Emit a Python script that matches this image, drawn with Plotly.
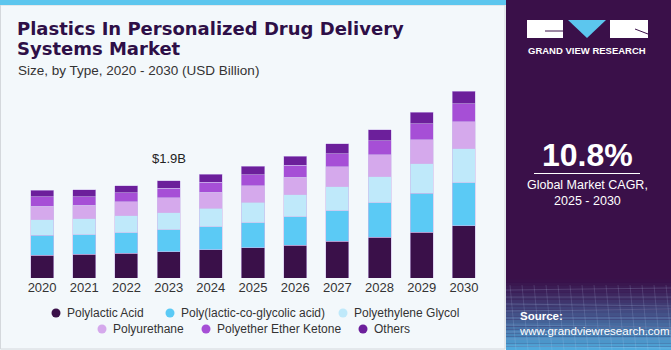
import plotly.graph_objects as go

years = ["2020", "2021", "2022", "2023", "2024", "2025", "2026", "2027", "2028", "2029", "2030"]
series_names = ["Polylactic Acid", "Poly(lactic-co-glycolic acid)", "Polyethylene Glycol",
                "Polyurethane", "Polyether Ether Ketone", "Others"]
polylactic_acid = [0.449, 0.463, 0.482, 0.508, 0.547, 0.592, 0.644, 0.717, 0.795, 0.898, 1.021]
plga = [0.383, 0.385, 0.404, 0.435, 0.455, 0.488, 0.553, 0.599, 0.678, 0.756, 0.840]
peg = [0.307, 0.312, 0.332, 0.332, 0.365, 0.396, 0.424, 0.469, 0.508, 0.580, 0.664]
polyurethane = [0.260, 0.260, 0.268, 0.293, 0.307, 0.326, 0.351, 0.391, 0.430, 0.469, 0.527]
peek = [0.184, 0.170, 0.182, 0.189, 0.195, 0.215, 0.228, 0.254, 0.273, 0.312, 0.346]
others = [0.129, 0.137, 0.131, 0.143, 0.156, 0.170, 0.176, 0.189, 0.209, 0.221, 0.248]
series_values = [polylactic_acid, plga, peg, polyurethane, peek, others]
colors = ["#3a1049", "#5bcaf5", "#bfe9fa", "#d5a9ec", "#a64fd6", "#6c1f9b"]
callout_year = "2023"
callout_text = "$1.9B"
cagr_text = "10.8%"
title_lines = ["Plastics In Personalized Drug Delivery", "Systems Market"]
subtitle = "Size, by Type, 2020 - 2030 (USD Billion)"

W, H = 671, 350
ML, MR, MT, MB = 21, 186, 88, 72
PW, PH = W - ML - MR, H - MT - MB


def pxx(x):
    return (x - ML) / PW


def pyy(y):
    return (H - MB - y) / PH


fig = go.Figure()
for name, vals, col in zip(series_names, series_values, colors):
    fig.add_trace(go.Bar(x=years, y=vals, name=name,
                         marker=dict(color=col, line=dict(color="rgba(205,185,235,0.7)", width=0.8)),
                         showlegend=False, hoverinfo="skip"))

totals = [sum(v[i] for v in series_values) for i in range(len(years))]
ci = years.index(callout_year)

shapes = []
annotations = []

# background panels
shapes.append(dict(type="rect", xref="paper", yref="paper", x0=pxx(0.5), x1=pxx(505), y0=pyy(349), y1=pyy(5),
                   line=dict(color="#d4d8dc", width=1), fillcolor="#f3f8fb", layer="below"))
shapes.append(dict(type="rect", xref="paper", yref="paper", x0=pxx(0), x1=pxx(506), y0=pyy(5), y1=pyy(0),
                   line=dict(width=0), fillcolor="#5cc6ee", layer="below"))
shapes.append(dict(type="rect", xref="paper", yref="paper", x0=pxx(506), x1=pxx(671), y0=pyy(350), y1=pyy(0),
                   line=dict(width=0), fillcolor="#3a1049", layer="below"))
# gradient at bottom of right panel
c0 = (0x3a, 0x10, 0x49)
c1 = (0x4f, 0xa9, 0xdc)
steps = 22
y_start, y_end = 276, 350
for i in range(steps):
    t = i / (steps - 1)
    t2 = t ** 1.3
    c = tuple(int(c0[k] + (c1[k] - c0[k]) * t2) for k in range(3))
    ya = y_start + (y_end - y_start) * i / steps
    yb = y_start + (y_end - y_start) * (i + 1) / steps
    shapes.append(dict(type="rect", xref="paper", yref="paper", x0=pxx(506), x1=pxx(671), y0=pyy(yb), y1=pyy(ya),
                       line=dict(width=0), fillcolor="rgb(%d,%d,%d)" % c, layer="below"))
# faint grid lines in gradient
for k in range(9):
    yy = 290 + k * 7
    shapes.append(dict(type="line", xref="paper", yref="paper", x0=pxx(506), x1=pxx(671), y0=pyy(yy),
                       y1=pyy(yy + (k % 3 - 1) * 2),
                       line=dict(color="rgba(200,220,255,0.18)", width=1), layer="below"))
for k in range(14):
    xx = 510 + k * 12
    shapes.append(dict(type="line", xref="paper", yref="paper", x0=pxx(xx), x1=pxx(xx + 6), y0=pyy(285), y1=pyy(350),
                       line=dict(color="rgba(200,220,255,0.15)", width=1), layer="below"))

# logo
shapes.append(dict(type="rect", xref="paper", yref="paper", x0=pxx(527), x1=pxx(563), y0=pyy(38), y1=pyy(20),
                   line=dict(width=0), fillcolor="white"))
shapes.append(dict(type="path", xref="paper", yref="paper",
                   path="M %f,%f L %f,%f L %f,%f Z" % (pxx(568), pyy(20), pxx(606), pyy(20), pxx(587), pyy(38)),
                   line=dict(width=0), fillcolor="#5cc6ee"))
shapes.append(dict(type="rect", xref="paper", yref="paper", x0=pxx(610), x1=pxx(648), y0=pyy(38), y1=pyy(20),
                   line=dict(width=0), fillcolor="white"))
shapes.append(dict(type="line", xref="paper", yref="paper", x0=pxx(545), x1=pxx(563), y0=pyy(31), y1=pyy(31),
                   line=dict(color="#3a1049", width=1)))
shapes.append(dict(type="line", xref="paper", yref="paper", x0=pxx(635), x1=pxx(648), y0=pyy(29), y1=pyy(34),
                   line=dict(color="#3a1049", width=1)))
annotations.append(dict(text="GRAND VIEW RESEARCH", xref="paper", yref="paper", x=pxx(587), y=pyy(50),
                        showarrow=False, font=dict(family="Liberation Sans", size=9.5, color="white", weight="bold"),
                        xanchor="center", yanchor="middle"))

# CAGR
annotations.append(dict(text="<b>%s</b>" % cagr_text, xref="paper", yref="paper", x=pxx(587), y=pyy(155),
                        showarrow=False, font=dict(family="Liberation Sans", size=32, color="white"),
                        xanchor="center", yanchor="middle"))
shapes.append(dict(type="line", xref="paper", yref="paper", x0=pxx(534), x1=pxx(640), y0=pyy(173.5), y1=pyy(173.5),
                   line=dict(color="white", width=1)))
annotations.append(dict(text="Global Market CAGR,<br>2025 - 2030", xref="paper", yref="paper", x=pxx(587), y=pyy(193),
                        showarrow=False, font=dict(family="Liberation Sans", size=12.5, color="white"),
                        xanchor="center", yanchor="middle", align="center"))
annotations.append(dict(text="<b>Source:</b><br>www.grandviewresearch.com", xref="paper", yref="paper", x=pxx(517),
                        y=pyy(323), showarrow=False, font=dict(family="Liberation Sans", size=11.5, color="white"),
                        xanchor="left", yanchor="middle", align="left"))

# title
for line_text, yc in zip(title_lines, [29, 48.5]):
    annotations.append(dict(text="<b>%s</b>" % line_text, xref="paper", yref="paper",
                            x=pxx(15), y=pyy(yc), showarrow=False,
                            font=dict(family="DejaVu Sans", size=18, color="#2e0f47"),
                            xanchor="left", yanchor="middle", align="left"))
annotations.append(dict(text=subtitle, xref="paper", yref="paper",
                        x=pxx(16), y=pyy(71), showarrow=False,
                        font=dict(family="Liberation Sans", size=13.5, color="#333333"),
                        xanchor="left", yanchor="middle", align="left"))

# callout
annotations.append(dict(text=callout_text, x=ci, y=totals[ci], xref="x", yref="y", yshift=22, showarrow=False,
                        font=dict(family="Liberation Sans", size=13, color="#222222"),
                        xanchor="center", yanchor="middle"))

# legend (manual)
legend_rows = [
    [(0, 56), (1, 170), (2, 343)],
    [(3, 102), (4, 206), (5, 363)],
]
row_y = [313, 329]
for r, row in enumerate(legend_rows):
    for idx, cx in row:
        yy = row_y[r]
        shapes.append(dict(type="circle", xref="paper", yref="paper", x0=pxx(cx - 4.5), x1=pxx(cx + 4.5),
                           y0=pyy(yy + 4.5), y1=pyy(yy - 4.5), line=dict(width=0), fillcolor=colors[idx]))
        annotations.append(dict(text=series_names[idx], xref="paper", yref="paper", x=pxx(cx + 9), y=pyy(yy),
                                showarrow=False, font=dict(family="Liberation Sans", size=12, color="#333333"),
                                xanchor="left", yanchor="middle"))

fig.update_layout(
    width=W, height=H,
    margin=dict(l=ML, r=MR, t=MT, b=MB),
    paper_bgcolor="#f3f8fb", plot_bgcolor="rgba(0,0,0,0)",
    barmode="stack", bargap=0.454,
    shapes=shapes, annotations=annotations,
    showlegend=False,
    xaxis=dict(type="category", range=[-0.5, 10.5], showgrid=False, showline=False, ticks="",
               tickfont=dict(family="Liberation Sans", size=13, color="#333333"), fixedrange=True),
    yaxis=dict(range=[0, PH * 1.9 / 97.3], visible=False, showgrid=False, fixedrange=True),
)

fig.write_html("out.html", config={"displayModeBar": False})
